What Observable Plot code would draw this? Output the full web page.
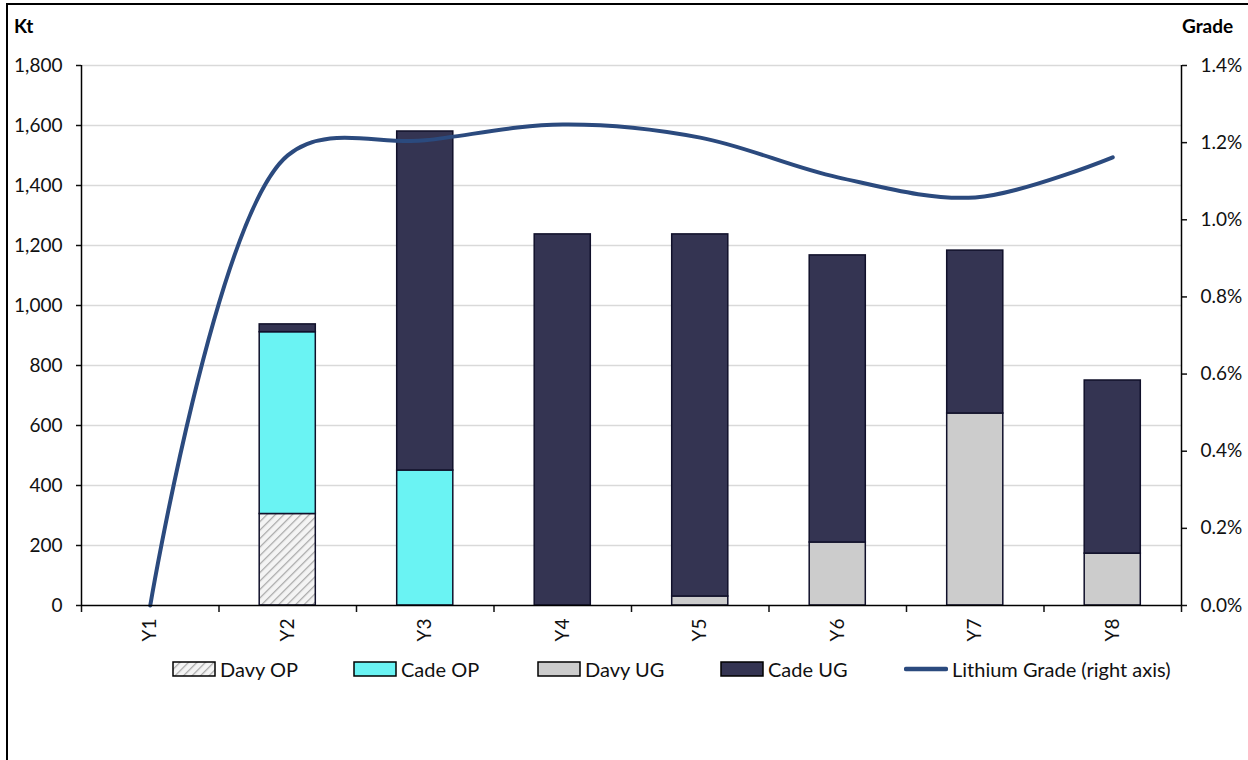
<!DOCTYPE html>
<html><head><meta charset="utf-8">
<script src="https://cdn.jsdelivr.net/npm/d3@7"></script>
<script src="https://cdn.jsdelivr.net/npm/@observablehq/plot@0.6"></script>
<style>
body{margin:0;background:#fff;font-family:Lato,"Open Sans",sans-serif;width:1248px;height:760px;overflow:hidden;position:relative;}
#frame{position:absolute;left:6px;top:3px;width:1260px;height:775px;border:2px solid #000;box-sizing:border-box;}
#chart{position:absolute;left:0;top:0;}
.axt{position:absolute;font-weight:bold;font-size:19px;color:#000;}
.li{position:absolute;top:657px;height:24px;display:flex;align-items:center;font-size:20px;color:#111;}
.li svg{margin-right:4px;}
</style></head><body>
<div id="frame"></div>
<div id="chart"></div>
<div class="axt" style="left:14px;top:14px;">Kt</div>
<div class="axt" style="left:1182px;top:14px;">Grade</div>
<div id="legend"></div>
<script>
const categories = ["Y1","Y2","Y3","Y4","Y5","Y6","Y7","Y8"];
const davyOP = [0, 305, 0, 0, 0, 0, 0, 0];
const cadeOP = [0, 606, 450, 0, 0, 0, 0, 0];
const davyUG = [0, 0, 0, 0, 30, 210, 640, 173];
const cadeUG = [0, 26, 1130, 1237, 1207, 957, 543, 577];
const grade = [0, 1.167, 1.206, 1.247, 1.213, 1.11, 1.058, 1.162]; // percent
const leftTicks = [0,200,400,600,800,1000,1200,1400,1600,1800];
const rightTicks = [0,0.2,0.4,0.6,0.8,1.0,1.2,1.4];

const series = [
  {name:"Davy OP", values:davyOP, fill:"url(#hatch)"},
  {name:"Cade OP", values:cadeOP, fill:"#6AF3F3"},
  {name:"Davy UG", values:davyUG, fill:"#CCCCCC"},
  {name:"Cade UG", values:cadeUG, fill:"#343452"}
];
const lineColor = "#2B4A7E";
const yMax = 1800, gMax = 1.4;
const toY = g => g * yMax / gMax;
const half = 0.204;

const rows = [];
categories.forEach((c, i) => {
  let base = 0;
  series.forEach(s => {
    const v = s.values[i];
    if (v > 0) rows.push({series:s.name, i, y1:base, y2:base+v, fill:s.fill});
    base += v;
  });
});
const gradeRows = categories.map((c,i)=>({x:i+0.5, y:toY(grade[i])}));

const plot = Plot.plot({
  width:1248, height:690,
  marginLeft:81, marginRight:67, marginTop:65, marginBottom:85,
  style:{fontFamily:"Lato, 'Open Sans', sans-serif", fontSize:"19px", color:"#111", background:"transparent"},
  x:{domain:[0,8], axis:null},
  y:{domain:[0,yMax], axis:null},
  marks:[
    Plot.ruleY(leftTicks.filter(d=>d>0), {stroke:"#D9D9D9", strokeWidth:1.5}),
    Plot.rectY(rows, {x1:d=>d.i+0.5-half, x2:d=>d.i+0.5+half, y1:"y1", y2:"y2", fill:d=>d.fill, stroke:"#10102A", strokeWidth:1.5}),
    Plot.line(gradeRows, {x:"x", y:"y", curve:"catmull-rom", stroke:lineColor, strokeWidth:4}),
    Plot.axisY(leftTicks, {anchor:"left", tickSize:5, tickPadding:14, tickFormat:d3.format(","), strokeWidth:1.5, label:null}),
    Plot.axisY(rightTicks.map(toY), {anchor:"right", tickSize:5, tickPadding:14, tickFormat:v=>(v*gMax/yMax).toFixed(1)+"%", strokeWidth:1.5, label:null}),
    Plot.axisX(categories.map((c,i)=>i+0.5), {tickSize:0, tickPadding:13, tickRotate:-90, tickFormat:d=>categories[Math.floor(d)], label:null}),
    Plot.axisX(d3.range(9), {tickSize:7, tickFormat:()=>"", strokeWidth:1.5, label:null}),
    Plot.ruleY([0], {stroke:"#000", strokeWidth:1.5}),
    Plot.ruleX([0, 8], {stroke:"#000", strokeWidth:1.5})
  ]
});
const svgNS = "http://www.w3.org/2000/svg";
function addDefs(svg){
  const defs = document.createElementNS(svgNS,"defs");
  defs.innerHTML = `<pattern id="hatch" patternUnits="userSpaceOnUse" width="6" height="6" patternTransform="rotate(45)">
    <rect width="6" height="6" fill="#F4F4F4"></rect>
    <line x1="0" y1="0" x2="0" y2="6" stroke="#A8A8A8" stroke-width="2.5"></line></pattern>`;
  svg.insertBefore(defs, svg.firstChild);
}
addDefs(plot);
document.getElementById("chart").appendChild(plot);

// legend
const legend = document.getElementById("legend");
const lefts = [172, 353, 537, 720];
series.forEach((s,k)=>{
  const d = document.createElement("div");
  d.className = "li"; d.style.left = lefts[k]+"px";
  const sw = document.createElementNS(svgNS,"svg");
  sw.setAttribute("width",44); sw.setAttribute("height",16);
  if (k===0) addDefs(sw);
  sw.innerHTML += `<rect x="1" y="1" width="42" height="14" fill="${s.fill}" stroke="#000" stroke-width="1.5"></rect>`;
  d.appendChild(sw);
  d.appendChild(document.createTextNode(s.name));
  legend.appendChild(d);
});
const dl = document.createElement("div");
dl.className = "li"; dl.style.left = "904px";
dl.innerHTML = `<svg width="44" height="16"><line x1="2" y1="8" x2="42" y2="8" stroke="${lineColor}" stroke-width="4.5" stroke-linecap="round"></line></svg>Lithium Grade (right axis)`;
legend.appendChild(dl);
</script>
</body></html>
